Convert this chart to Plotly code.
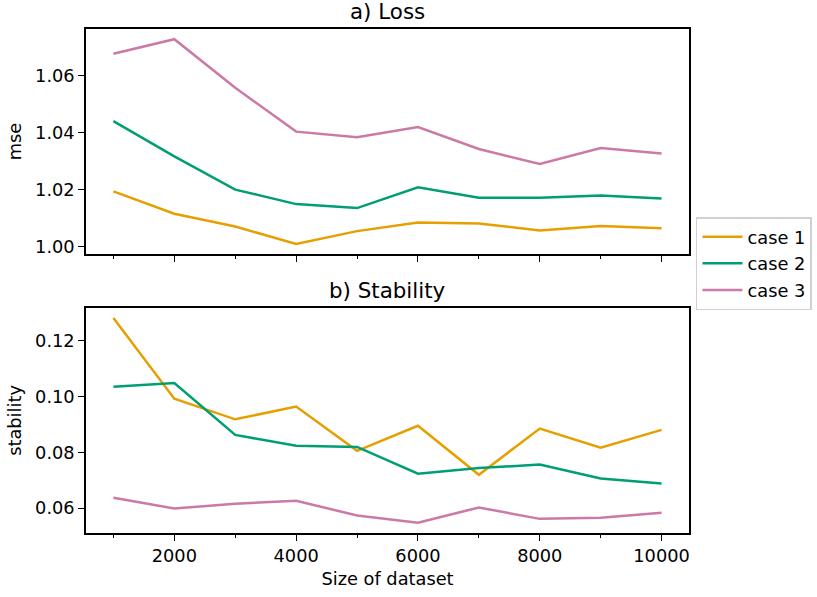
import plotly.graph_objects as go

# Dataset sizes used for every experiment
sizes = [1000, 2000, 3000, 4000, 5000, 6000, 7000, 8000, 9000, 10000]

# a) Loss (mse) per case
loss_case1 = [1.0194, 1.0115, 1.0070, 1.0009, 1.0054, 1.0084, 1.0081, 1.0056, 1.0072, 1.0064]
loss_case2 = [1.0441, 1.0317, 1.0200, 1.0149, 1.0135, 1.0208, 1.0171, 1.0171, 1.0179, 1.0169]
loss_case3 = [1.0678, 1.0729, 1.0558, 1.0404, 1.0384, 1.0420, 1.0343, 1.0290, 1.0346, 1.0327]

# b) Stability per case
stab_case1 = [0.1282, 0.0993, 0.0919, 0.0965, 0.0806, 0.0896, 0.0720, 0.0886, 0.0817, 0.0881]
stab_case2 = [0.1036, 0.1049, 0.0863, 0.0824, 0.0820, 0.0724, 0.0744, 0.0757, 0.0707, 0.0689]
stab_case3 = [0.0638, 0.0599, 0.0616, 0.0627, 0.0574, 0.0548, 0.0603, 0.0562, 0.0566, 0.0584]

case_names = ["case 1", "case 2", "case 3"]
colors = ["#E69F00", "#009E73", "#CC79A7"]

FONT = "DejaVu Sans"
FS = 17.8
TFS = 21.4
fig = go.Figure()

for name, color, ys in zip(case_names, colors, [loss_case1, loss_case2, loss_case3]):
    fig.add_trace(go.Scatter(x=sizes, y=ys, mode="lines", name=name, legendgroup=name,
                             line=dict(color=color, width=2.5), xaxis="x", yaxis="y"))
for name, color, ys in zip(case_names, colors, [stab_case1, stab_case2, stab_case3]):
    fig.add_trace(go.Scatter(x=sizes, y=ys, mode="lines", name=name, legendgroup=name,
                             showlegend=False,
                             line=dict(color=color, width=2.5), xaxis="x2", yaxis="y2"))

def pad_range(vals, frac=0.05):
    lo, hi = min(vals), max(vals)
    m = (hi - lo) * frac
    return [lo - m, hi + m]

axis_common = dict(
    showline=True, linecolor="#000000", linewidth=1.5, mirror=True,
    showgrid=False, zeroline=False,
    ticks="outside", ticklen=6, tickwidth=1.3, tickcolor="#000000",
    tickfont=dict(family=FONT, size=FS, color="#000000"),
)

x_minor = dict(ticks="outside", ticklen=3.5, tickwidth=1, tickcolor="#000000",
               tick0=1000, dtick=2000, showgrid=False)

xr = pad_range(sizes)
fig.update_layout(
    width=817, height=597,
    paper_bgcolor="white", plot_bgcolor="white",
    margin=dict(l=86, r=128, t=29, b=64, autoexpand=False),
    font=dict(family=FONT, size=FS, color="#000000"),
    xaxis=dict(axis_common, domain=[0, 1], anchor="y", range=xr,
               tick0=0, dtick=2000, showticklabels=False, minor=x_minor),
    yaxis=dict(axis_common, domain=[0.5533, 1], anchor="x",
               range=pad_range(loss_case1 + loss_case2 + loss_case3),
               tick0=1.0, dtick=0.02, tickformat=".2f",
               title=dict(text="mse", font=dict(family=FONT, size=FS), standoff=9)),
    xaxis2=dict(axis_common, domain=[0, 1], anchor="y2", range=xr, matches="x",
                tick0=0, dtick=2000, tickformat="d", minor=x_minor,
                title=dict(text="Size of dataset", font=dict(family=FONT, size=FS), standoff=7)),
    yaxis2=dict(axis_common, domain=[0, 0.4467], anchor="x2",
                range=pad_range(stab_case1 + stab_case2 + stab_case3),
                tick0=0.0, dtick=0.02, tickformat=".2f",
                title=dict(text="stability", font=dict(family=FONT, size=FS), standoff=9)),
    legend=dict(x=1.0116, y=0.5344, xanchor="left", yanchor="middle",
                bordercolor="#d0d0d0", borderwidth=1.5, bgcolor="white",
                font=dict(family=FONT, size=FS, color="#000000"),
                tracegroupgap=0.5, itemwidth=40),
    showlegend=True,
)

# Subplot titles
fig.add_annotation(text="a) Loss", x=0.5, y=1, xref="paper", yref="paper",
                   xanchor="center", yanchor="bottom", yshift=3, showarrow=False,
                   font=dict(family=FONT, size=TFS, color="#000000"))
fig.add_annotation(text="b) Stability", x=0.5, y=0.4467, xref="paper", yref="paper",
                   xanchor="center", yanchor="bottom", yshift=3, showarrow=False,
                   font=dict(family=FONT, size=TFS, color="#000000"))

fig.write_html("out.html")
